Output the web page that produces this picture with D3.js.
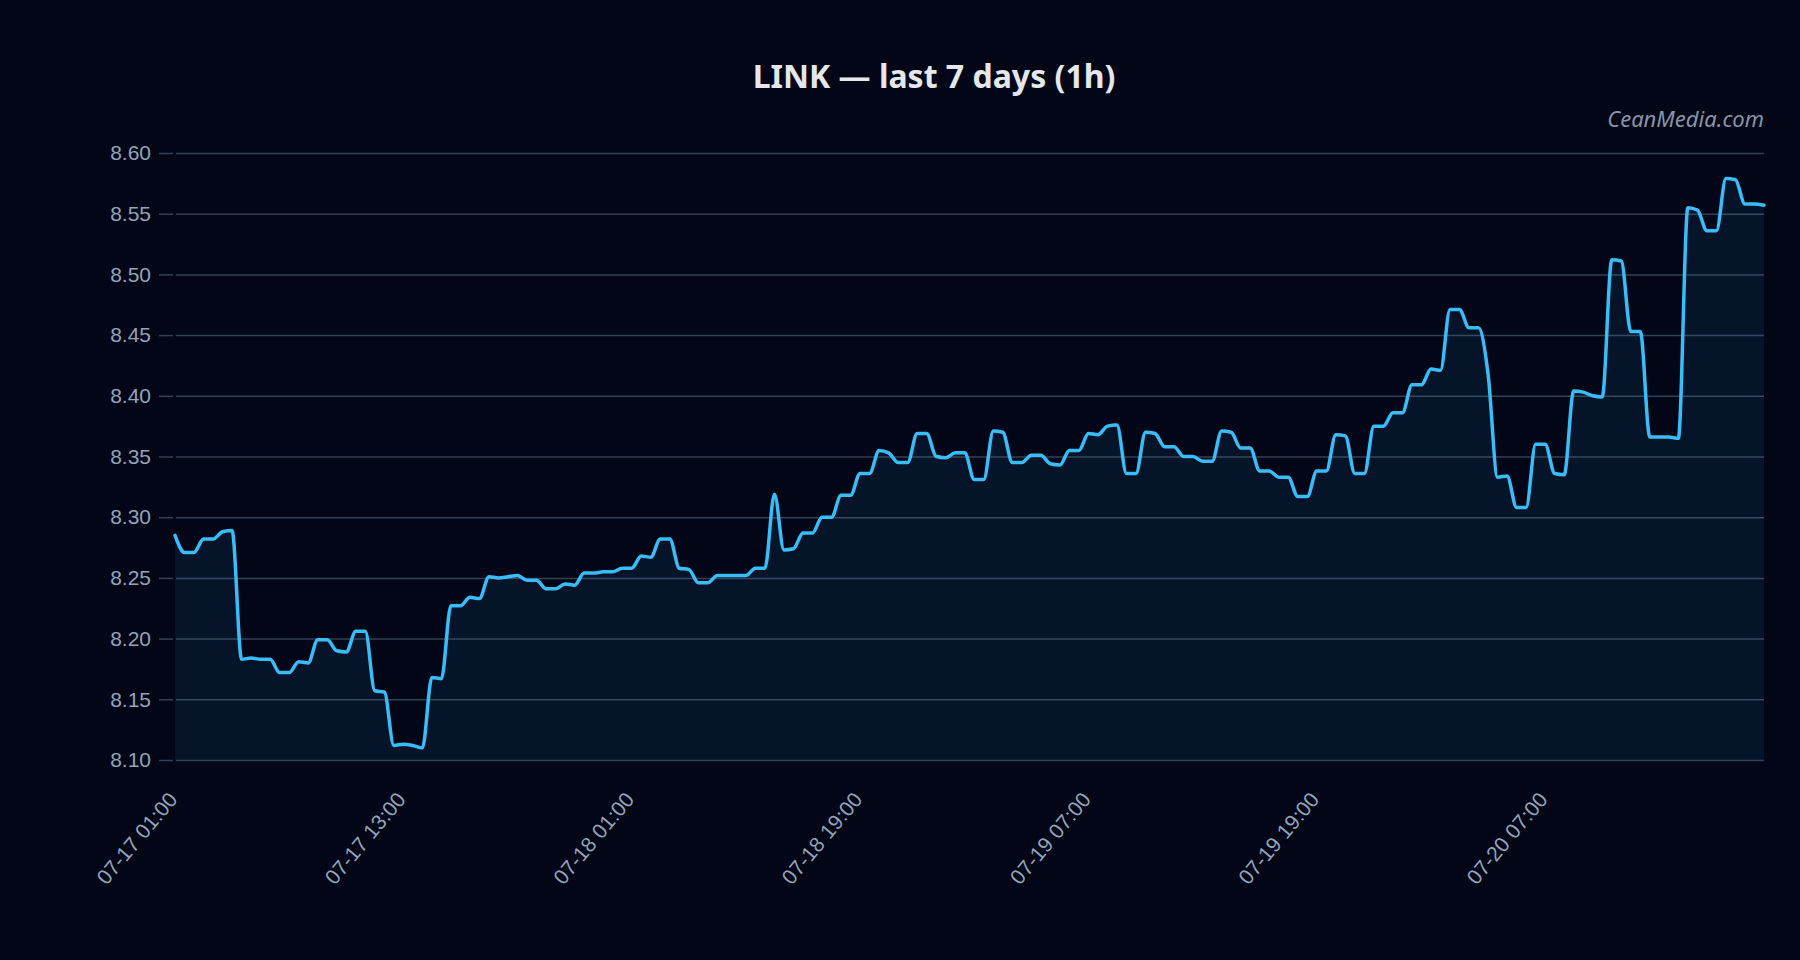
<!DOCTYPE html>
<html>
<head>
<meta charset="utf-8">
<script src="https://cdn.jsdelivr.net/npm/d3@7"></script>
<style>
  html, body { margin: 0; padding: 0; background: #020617; }
  svg { display: block; }
</style>
</head>
<body>
<svg id="chart"></svg>
<script>
// LINK closes (one value per step on the x axis)
const prices = [
  8.285, 8.271, 8.271, 8.282, 8.282, 8.288, 8.289, 8.183, 8.184, 8.183,
  8.183, 8.172, 8.172, 8.181, 8.180, 8.199, 8.199, 8.190, 8.189, 8.206,
  8.206, 8.157, 8.156, 8.112, 8.113, 8.112, 8.110, 8.168, 8.167, 8.227,
  8.227, 8.234, 8.233, 8.251, 8.250, 8.251, 8.252, 8.248, 8.248, 8.241,
  8.241, 8.245, 8.244, 8.254, 8.254, 8.255, 8.255, 8.258, 8.258, 8.268,
  8.267, 8.282, 8.282, 8.258, 8.257, 8.246, 8.246, 8.252, 8.252, 8.252,
  8.252, 8.258, 8.258, 8.319, 8.273, 8.274, 8.287, 8.287, 8.300, 8.300,
  8.318, 8.318, 8.336, 8.336, 8.355, 8.353, 8.345, 8.345, 8.369, 8.369,
  8.350, 8.349, 8.353, 8.353, 8.331, 8.331, 8.371, 8.370, 8.345, 8.345,
  8.351, 8.351, 8.344, 8.343, 8.355, 8.355, 8.369, 8.368, 8.375, 8.376,
  8.336, 8.336, 8.370, 8.369, 8.358, 8.358, 8.350, 8.350, 8.346, 8.346,
  8.371, 8.370, 8.357, 8.357, 8.338, 8.338, 8.333, 8.333, 8.317, 8.317,
  8.338, 8.338, 8.368, 8.367, 8.336, 8.336, 8.375, 8.375, 8.386, 8.386,
  8.409, 8.409, 8.422, 8.421, 8.471, 8.471, 8.456, 8.456, 8.418, 8.333,
  8.334, 8.308, 8.308, 8.360, 8.360, 8.336, 8.335, 8.404, 8.403, 8.400,
  8.399, 8.512, 8.511, 8.453, 8.453, 8.366, 8.366, 8.366, 8.365, 8.555,
  8.553, 8.536, 8.536, 8.579, 8.578, 8.558, 8.558, 8.557
];

// labels shown every 24 steps
const tickLabels = ["07-17 01:00", "07-17 13:00", "07-18 01:00", "07-18 19:00",
                    "07-19 07:00", "07-19 19:00", "07-20 07:00"];
const tickStep = 24;

const yDomain = [8.10, 8.60];
const title = "LINK \u2014 last 7 days (1h)";
const watermark = "CeanMedia.com";

const W = 1800, H = 960;
const margin = { top: 153, right: 36, bottom: 200, left: 175 };
const width = W - margin.left - margin.right;
const height = H - margin.top - margin.bottom;

const svg = d3.select("#chart")
    .attr("width", W)
    .attr("height", H)
    .style("background", "#020617");

const g = svg.append("g")
    .attr("transform", `translate(${margin.left},${margin.top})`);

const x = d3.scaleLinear()
    .domain([0, prices.length - 1])
    .range([0, width]);

const y = d3.scaleLinear()
    .domain(yDomain)
    .range([height, 0]);

// horizontal grid, starts just right of the plot edge
g.append("g")
    .attr("class", "grid")
    .attr("transform", "translate(1,0)")
    .call(d3.axisLeft(y).ticks(10).tickSize(-(width - 1)).tickFormat(""))
    .call(s => s.select(".domain").remove())
    .selectAll("line")
    .attr("stroke", "#334155")
    .attr("stroke-width", 1.5);

// y axis (short ticks + labels), small gap before the plot
const yAxis = g.append("g")
    .attr("transform", "translate(-2,0)")
    .call(d3.axisLeft(y).ticks(10).tickSize(14).tickPadding(8).tickFormat(d3.format(".2f")));
yAxis.select(".domain").remove();
yAxis.selectAll("line").attr("stroke", "#334155").attr("stroke-width", 1.5);
yAxis.selectAll("text")
    .attr("fill", "#94a3b8")
    .style("font-family", "'Liberation Sans', Arial, sans-serif")
    .style("font-size", "21px");

// area + line
const area = d3.area()
    .x((d, i) => x(i))
    .y0(height)
    .y1(d => y(d))
    .curve(d3.curveMonotoneX);

const line = d3.line()
    .x((d, i) => x(i))
    .y(d => y(d))
    .curve(d3.curveMonotoneX);

g.append("path")
    .datum(prices)
    .attr("d", area)
    .attr("fill", "#38bdf8")
    .attr("fill-opacity", 0.08);

g.append("path")
    .datum(prices)
    .attr("d", line)
    .attr("fill", "none")
    .attr("stroke", "#38bdf8")
    .attr("stroke-width", 3.5)
    .attr("stroke-linejoin", "round")
    .attr("stroke-linecap", "round");

// x labels, rotated
const xTicks = tickLabels.map((t, k) => k * tickStep);
const xAxis = g.append("g")
    .attr("transform", `translate(0,${height})`)
    .call(d3.axisBottom(x).tickValues(xTicks).tickSize(0).tickPadding(0)
        .tickFormat((d, k) => tickLabels[k]));
xAxis.select(".domain").remove();
xAxis.selectAll("text")
    .attr("fill", "#94a3b8")
    .style("font-family", "'Liberation Sans', Arial, sans-serif")
    .style("font-size", "21px")
    .attr("text-anchor", "end")
    .attr("y", 0)
    .attr("dy", "0")
    .attr("transform", "translate(3,40) rotate(-50)");

// title and watermark
svg.append("text")
    .attr("x", 934)
    .attr("y", 88)
    .attr("text-anchor", "middle")
    .style("font-family", "'Noto Sans', 'Open Sans', sans-serif")
    .style("font-weight", "bold")
    .style("font-size", "32px")
    .attr("fill", "#e5e7eb")
    .text(title);

svg.append("text")
    .attr("x", margin.left + width)
    .attr("y", 127)
    .attr("text-anchor", "end")
    .style("font-family", "'Noto Sans', 'Open Sans', sans-serif")
    .style("font-style", "italic")
    .style("font-size", "22px")
    .attr("fill", "#8a94a6")
    .text(watermark);
</script>
</body>
</html>
